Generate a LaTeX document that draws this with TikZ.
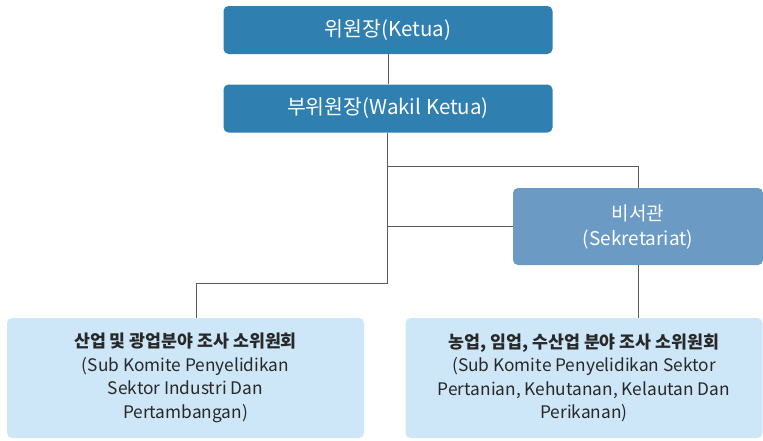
\documentclass[tikz,border=0pt]{standalone}
\usepackage{fontspec}
\setmainfont{Noto Sans CJK KR}
\usepackage{xcolor}
\definecolor{chair}{RGB}{47,127,177}
\definecolor{secretary}{RGB}{107,154,197}
\definecolor{subcommittee}{RGB}{206,231,248}
\definecolor{bodytext}{RGB}{40,40,40}
\definecolor{linkgray}{RGB}{90,90,90}
\tikzstyle{post}=[rounded corners=5pt, inner sep=0pt, align=center]
\tikzstyle{head}=[post, fill=chair, text=white, minimum width=329pt, minimum height=48pt, font=\fontsize{20.5}{24}\selectfont]
\tikzstyle{secbox}=[post, fill=secretary, text=white, minimum width=250pt, minimum height=77pt, font=\fontsize{19}{25}\selectfont]
\tikzstyle{subbox}=[post, fill=subcommittee, text=bodytext, minimum width=357pt, minimum height=120pt, font=\fontsize{17.3}{23.5}\selectfont]
\tikzstyle{link}=[draw=linkgray, line width=1pt]

\begin{document}
\begin{tikzpicture}[x=1pt,y=-1pt]
  \useasboundingbox (0,0) rectangle (763,440);
  \draw (388,30) node[head] (ketua) {위원장(Ketua)};
  \draw (388,108.5) node[head] (wakil) {부위원장(Wakil Ketua)};
  \draw (638,226.5) node[secbox] (sekretariat) {비서관\\(Sekretariat)};
  \draw (185.5,378) node[subbox] (subindustri) {\textbf{산업 및 광업분야 조사 소위원회}\\(Sub Komite Penyelidikan\\Sektor Industri Dan\\Pertambangan)};
  \draw (584,378) node[subbox] (subpertanian) {\textbf{농업, 임업, 수산업 분야 조사 소위원회}\\(Sub Komite Penyelidikan Sektor\\Pertanian, Kehutanan, Kelautan Dan\\Perikanan)};

  %% Connectors
  \coordinate (split) at (387,166);
  \coordinate (tap) at (387,226.5);
  \coordinate (branch) at (387,283);
  \coordinate (drop) at (196,318);
  \draw[link] (ketua.south) -- (wakil.north);
  \draw[link] (wakil.south -| split) -- (branch) -| (drop);
  \draw[link] (split) -| (sekretariat.north);
  \draw[link] (tap) -- (sekretariat.west);
  \draw[link] (sekretariat.south) -- (sekretariat.south |- subpertanian.north);
\end{tikzpicture}
\end{document}
